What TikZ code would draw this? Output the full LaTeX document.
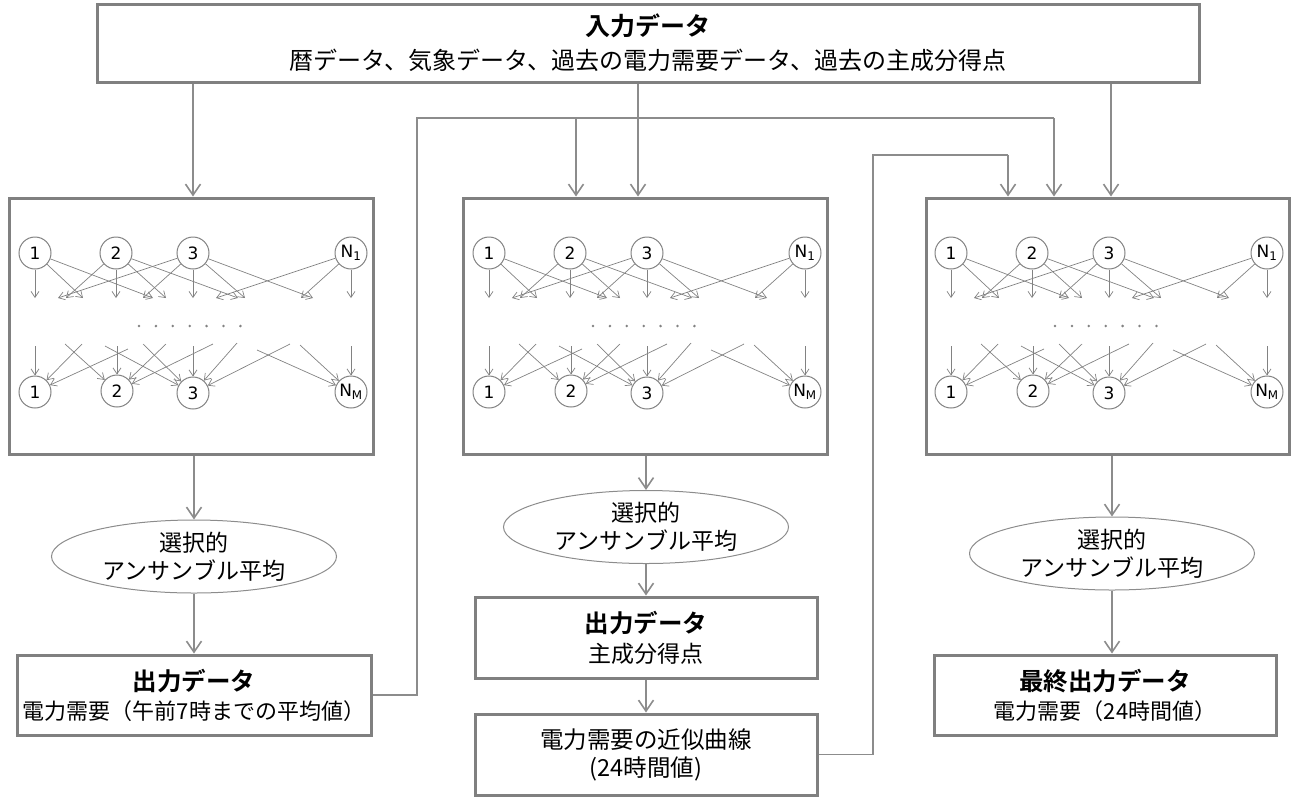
\documentclass[tikz,border=0pt]{standalone}
\usepackage{fontspec}
\setmainfont{Noto Sans CJK JP}[BoldFont={Noto Sans CJK JP Bold}]
\newfontfamily\numfont{DejaVu Sans}
\usetikzlibrary{arrows.meta,shapes.geometric,calc}
\definecolor{boxgray}{RGB}{128,128,128}
\definecolor{linegray}{RGB}{140,140,140}
\definecolor{netgray}{RGB}{130,130,130}
\tikzset{
 bigbox/.style={draw=boxgray, line width=3pt, fill=white, inner sep=0pt, align=center},
 netbox/.style={draw=boxgray, line width=3pt, inner sep=0pt, minimum width=364pt, minimum height=256pt},
 ellbox/.style={ellipse, draw=linegray, line width=1pt, inner sep=0pt, align=center, minimum width=285pt, minimum height=73pt, font=\fontsize{23}{28}\selectfont},
 conn/.style={draw=linegray, line width=1.6pt, -{Straight Barb[length=11pt,width=15pt]}},
 wire/.style={draw=linegray, line width=1.6pt},
 neuron/.style={circle, draw=netgray, line width=1pt, minimum size=32pt, inner sep=0pt, fill=white, font=\numfont\fontsize{17}{17}\selectfont},
 syn/.style={draw=netgray, line width=0.7pt, -{Straight Barb[length=6pt,width=8pt]}},
}
\newcommand\netbody[2]{%
\begin{scope}[shift={(#2)}]
 \node[neuron] (#1t1) at (26,55) {1};
 \node[neuron] (#1t2) at (107,55) {2};
 \node[neuron] (#1t3) at (184,55) {3};
 \node[neuron] (#1tn) at (342,55) {N\textsubscript{1}};
 \node[neuron] (#1b1) at (26,194) {1};
 \node[neuron] (#1b2) at (108,193) {2};
 \node[neuron] (#1b3) at (184,195) {3};
 \node[neuron] (#1bn) at (342,194) {N\textsubscript{M}};
 \foreach \x in {26,74,144} \draw[syn] (#1t1) -- (\x,100);
 \foreach \x in {57,107,157,229} \draw[syn] (#1t2) -- (\x,100);
 \foreach \x in {49,134,184,236,304} \draw[syn] (#1t3) -- (\x,100);
 \foreach \x in {207,292,342} \draw[syn] (#1tn) -- (\x,100);
 \foreach \k in {0,...,6} \fill[netgray] (130+16.9*\k,128) circle (1.4pt);
 \foreach \x/\y/\t in {26/148/b1, 56/146/b2, 73/146/b1, 96/148/b3, 108/148/b2,
   119/151/b1, 134/146/b3, 157/146/b2, 184/148/b3, 204/146/b2, 228/145/b3,
   248/152/bn, 281/146/b3, 291/147/bn, 342/148/bn}
   \draw[syn] (\x,\y) -- (#1\t);
\end{scope}}
\begin{document}
\begin{tikzpicture}[x=1pt,y=-1pt]
\useasboundingbox (0,0) rectangle (1291,796);
% top box
\node[bigbox, minimum width=1102pt, minimum height=78pt, font=\fontsize{24}{34}\selectfont] (top) at (648,43)
  {{\fontsize{25}{34}\selectfont\bfseries 入力データ}\\暦データ、気象データ、過去の電力需要データ、過去の主成分得点};
% network boxes
\node[netbox] (net1) at (191,326) {};
\node[netbox] (net2) at (645,326) {};
\node[netbox, minimum width=363pt] (net3) at (1107.5,326) {};
\netbody{A}{9,198}
\netbody{B}{463,198}
\netbody{C}{925,198}
% ellipses
\node[ellbox] (ell1) at (194,556.5) {選択的\\アンサンブル平均};
\node[ellbox] (ell2) at (646,527) {選択的\\アンサンブル平均};
\node[ellbox] (ell3) at (1112,553.5) {選択的\\アンサンブル平均};
% output boxes
\node[bigbox, minimum width=354pt, minimum height=80pt, font=\fontsize{22}{29}\selectfont] (out1) at (194,695)
  {{\fontsize{24.5}{29}\selectfont\bfseries 出力データ}\\電力需要（午前7時までの平均値）};
\node[bigbox, minimum width=342pt, minimum height=81pt, font=\fontsize{23}{30}\selectfont] (out2) at (646,637.5)
  {{\fontsize{24.5}{30}\selectfont\bfseries 出力データ}\\主成分得点};
\node[bigbox, minimum width=342pt, minimum height=81pt, font=\fontsize{23.5}{28}\selectfont] (curve) at (646,754.5)
  {電力需要の近似曲線\\(24時間値)};
\node[bigbox, minimum width=342pt, minimum height=80pt, font=\fontsize{22}{29}\selectfont] (final) at (1105,695)
  {{\fontsize{24.5}{29}\selectfont\bfseries 最終出力データ}\\電力需要（24時間値）};
% helper coordinates
\coordinate (xa) at (193,0);
\coordinate (xb) at (638,0);
\coordinate (xc) at (1111,0);
\coordinate (r1) at (417,118);
\coordinate (r1b) at (576,118);
\coordinate (r1e) at (1054,118);
\coordinate (r2) at (873,155);
\coordinate (r2e) at (1008,155);
% connectors
\draw[conn] (top.south -| xa) -- (net1.north -| xa);
\draw[conn] (top.south -| xb) -- (net2.north -| xb);
\draw[conn] (top.south -| xc) -- (net3.north -| xc);
\draw[conn] (net1.south -| ell1.north) -- (ell1.north);
\draw[conn] (ell1.south) -- (out1.north -| ell1.south);
\draw[conn] (net2.south -| ell2.north) -- (ell2.north);
\draw[conn] (ell2.south) -- (out2.north);
\draw[conn] (out2.south) -- (curve.north);
\draw[conn] (net3.south -| ell3.north) -- (ell3.north);
\draw[conn] (ell3.south) -- (final.north -| ell3.south);
\draw[wire] (out1.east) -| (r1) -- (r1e);
\draw[conn] (r1b) -- (net2.north -| r1b);
\draw[conn] (r1e) -- (net3.north -| r1e);
\draw[wire] (curve.east) -| (r2) -- (r2e);
\draw[conn] (r2e) -- (net3.north -| r2e);
\end{tikzpicture}
\end{document}
